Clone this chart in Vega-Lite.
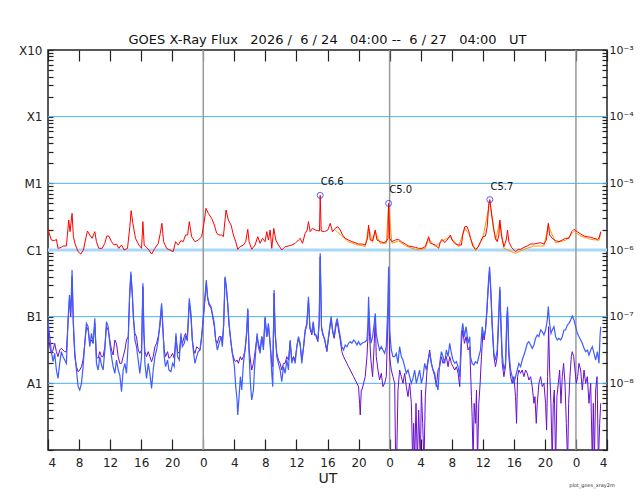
{
  "$schema": "https://vega.github.io/schema/vega-lite/v6.json",
  "description": "GOES X-ray flux, 3 days, long (1-8 A) and short (0.5-4 A) channels, log10 W/m2.",
  "autosize": "none",
  "width": 559,
  "height": 400,
  "padding": {"left": 48, "top": 50, "right": 33, "bottom": 50},
  "title": {
    "text": "GOES X-Ray Flux\u00a0\u00a0 2026 /\u00a0 6 / 24\u00a0\u00a0 04:00 --\u00a0 6 / 27\u00a0\u00a0 04:00\u00a0\u00a0 UT",
    "anchor": "middle",
    "baseline": "alphabetic",
    "offset": -13,
    "font": "DejaVu Sans",
    "fontSize": 13,
    "fontWeight": "normal",
    "color": "#111"
  },
  "datasets": {
    "c1": [{"v": -6}],
    "decades": [{"v": -4}, {"v": -5}, {"v": -7}, {"v": -8}],
    "days": [{"t": 20}, {"t": 44}, {"t": 68}],
    "flares": [
      {"t": 35.06, "v": -5.180, "label": "C6.6"},
      {"t": 43.87, "v": -5.301, "label": "C5.0"},
      {"t": 56.91, "v": -5.244, "label": "C5.7"}
    ],
    "tag": [{"t": 72, "v": -9, "label": "plot_goes_xray2m"}],
    "xl": [
      {"t":0,"v":-5.675},{"t":0.22,"v":-5.775},{"t":0.43,"v":-5.85},{"t":0.86,"v":-5.86},{"t":1.08,"v":-5.84},{"t":1.29,"v":-5.975},{"t":1.72,"v":-5.96},{"t":1.94,"v":-5.94},{"t":2.37,"v":-5.94},{"t":2.67,"v":-5.55},{"t":2.84,"v":-5.725},{"t":3.10,"v":-5.45},{"t":3.27,"v":-5.8},{"t":3.53,"v":-5.925},{"t":3.88,"v":-6.025},{"t":4.22,"v":-6.06},{"t":4.56,"v":-6.0},{"t":4.82,"v":-5.85},{"t":5.08,"v":-5.715},{"t":5.38,"v":-5.775},{"t":5.68,"v":-5.825},{"t":6.03,"v":-5.725},{"t":6.24,"v":-5.875},{"t":6.54,"v":-5.975},{"t":6.97,"v":-5.975},{"t":7.32,"v":-5.9},{"t":7.57,"v":-5.79},{"t":7.83,"v":-5.79},{"t":8.18,"v":-5.875},{"t":8.52,"v":-5.925},{"t":8.82,"v":-5.91},{"t":9.12,"v":-5.975},{"t":9.47,"v":-5.925},{"t":9.81,"v":-6.0},{"t":10.24,"v":-5.975},{"t":10.54,"v":-5.65},{"t":10.71,"v":-5.41},{"t":10.93,"v":-5.6},{"t":11.27,"v":-5.825},{"t":11.70,"v":-5.925},{"t":12.05,"v":-5.975},{"t":12.22,"v":-5.575},{"t":12.39,"v":-5.925},{"t":12.69,"v":-5.96},{"t":12.99,"v":-6.0},{"t":13.34,"v":-6.06},{"t":13.77,"v":-5.975},{"t":14.20,"v":-5.9},{"t":14.46,"v":-5.75},{"t":14.67,"v":-5.6},{"t":14.89,"v":-5.875},{"t":15.27,"v":-5.975},{"t":15.70,"v":-6.0},{"t":16.13,"v":-6.025},{"t":16.43,"v":-5.875},{"t":16.78,"v":-5.925},{"t":17.12,"v":-5.86},{"t":17.42,"v":-5.875},{"t":17.72,"v":-5.775},{"t":17.98,"v":-5.775},{"t":18.20,"v":-5.575},
      {"t":18.50,"v":-5.8},{"t":18.93,"v":-5.875},{"t":19.36,"v":-5.85},{"t":19.79,"v":-5.8},{"t":20.09,"v":-5.6},{"t":20.35,"v":-5.375},{"t":20.65,"v":-5.45},{"t":21.08,"v":-5.525},{"t":21.42,"v":-5.625},{"t":21.73,"v":-5.75},{"t":22.03,"v":-5.775},{"t":22.37,"v":-5.775},{"t":22.59,"v":-5.8},{"t":22.80,"v":-5.55},{"t":22.93,"v":-5.4},{"t":23.23,"v":-5.55},{"t":23.58,"v":-5.625},{"t":23.88,"v":-5.775},{"t":24.18,"v":-5.875},{"t":24.44,"v":-5.99},{"t":24.74,"v":-5.95},{"t":25.17,"v":-5.925},{"t":25.47,"v":-5.875},{"t":25.73,"v":-5.69},{"t":25.90,"v":-5.875},{"t":26.24,"v":-5.99},{"t":26.67,"v":-5.925},{"t":27.02,"v":-5.8},{"t":27.32,"v":-5.9},{"t":27.62,"v":-5.825},{"t":27.96,"v":-5.875},{"t":28.18,"v":-5.725},{"t":28.39,"v":-5.85},{"t":28.61,"v":-5.7},{"t":28.82,"v":-5.975},{"t":29.08,"v":-5.675},{"t":29.34,"v":-5.85},{"t":29.68,"v":-5.925},{"t":30.11,"v":-6.0},{"t":30.54,"v":-5.95},{"t":30.97,"v":-5.94},{"t":31.40,"v":-5.925},{"t":31.83,"v":-5.9},{"t":32.26,"v":-5.85},{"t":32.48,"v":-5.825},{"t":32.78,"v":-5.9},{"t":33.12,"v":-5.75},{"t":33.38,"v":-5.7},{"t":33.55,"v":-5.575},{"t":33.77,"v":-5.725},{"t":34.07,"v":-5.675},{"t":34.41,"v":-5.7},{"t":34.76,"v":-5.71},{"t":34.97,"v":-5.715},{"t":35.06,"v":-5.18},{"t":35.19,"v":-5.715},{"t":35.62,"v":-5.725},
      {"t":36.04,"v":-5.7},{"t":36.35,"v":-5.6},{"t":36.65,"v":-5.725},{"t":36.99,"v":-5.675},{"t":37.33,"v":-5.65},{"t":37.64,"v":-5.7},{"t":37.94,"v":-5.775},{"t":38.28,"v":-5.825},{"t":38.71,"v":-5.85},{"t":39.14,"v":-5.875},{"t":39.57,"v":-5.89},{"t":40.00,"v":-5.91},{"t":40.43,"v":-5.91},{"t":40.86,"v":-5.925},{"t":41.16,"v":-5.825},{"t":41.29,"v":-5.625},{"t":41.51,"v":-5.85},{"t":41.81,"v":-5.86},{"t":42.15,"v":-5.7},{"t":42.37,"v":-5.85},{"t":42.80,"v":-5.875},{"t":43.23,"v":-5.89},{"t":43.57,"v":-5.875},{"t":43.79,"v":-5.825},{"t":43.87,"v":-5.301},{"t":44.00,"v":-5.825},{"t":44.30,"v":-5.875},{"t":44.73,"v":-5.85},{"t":45.16,"v":-5.84},{"t":45.51,"v":-5.875},{"t":46.02,"v":-5.91},{"t":46.45,"v":-5.94},{"t":46.88,"v":-5.95},{"t":47.31,"v":-5.96},{"t":47.74,"v":-5.975},{"t":48.17,"v":-5.975},{"t":48.60,"v":-5.95},{"t":49.03,"v":-5.8},{"t":49.25,"v":-5.9},{"t":49.55,"v":-5.91},{"t":49.89,"v":-5.925},{"t":50.32,"v":-5.975},{"t":50.54,"v":-5.875},{"t":50.75,"v":-5.84},{"t":51.10,"v":-5.89},{"t":51.40,"v":-5.85},{"t":51.83,"v":-5.775},{"t":52.04,"v":-5.85},{"t":52.47,"v":-5.91},{"t":52.90,"v":-5.925},{"t":53.25,"v":-5.925},{"t":53.42,"v":-5.775},{"t":53.68,"v":-5.65},{"t":53.98,"v":-5.65},{"t":54.28,"v":-5.75},
      {"t":54.42,"v":-5.825},{"t":54.72,"v":-5.94},{"t":55.06,"v":-5.99},{"t":55.40,"v":-5.96},{"t":55.71,"v":-5.875},{"t":56.01,"v":-5.8},{"t":56.35,"v":-5.79},{"t":56.57,"v":-5.65},{"t":56.78,"v":-5.3},{"t":56.91,"v":-5.244},{"t":57.12,"v":-5.45},{"t":57.38,"v":-5.675},{"t":57.64,"v":-5.825},{"t":57.86,"v":-5.875},{"t":58.07,"v":-5.775},{"t":58.20,"v":-5.55},{"t":58.42,"v":-5.8},{"t":58.72,"v":-5.95},{"t":59.02,"v":-5.85},{"t":59.19,"v":-5.7},{"t":59.36,"v":-5.875},{"t":59.71,"v":-5.96},{"t":60.01,"v":-6.0},{"t":60.22,"v":-6.025},{"t":60.57,"v":-5.99},{"t":60.87,"v":-5.99},{"t":61.30,"v":-5.96},{"t":61.73,"v":-5.94},{"t":62.16,"v":-5.91},{"t":62.59,"v":-5.91},{"t":63.02,"v":-5.9},{"t":63.45,"v":-5.89},{"t":63.88,"v":-5.91},{"t":64.18,"v":-5.85},{"t":64.44,"v":-5.6},{"t":64.61,"v":-5.775},{"t":64.95,"v":-5.825},{"t":65.38,"v":-5.86},{"t":65.81,"v":-5.875},{"t":66.24,"v":-5.85},{"t":66.67,"v":-5.825},{"t":67.10,"v":-5.825},{"t":67.45,"v":-5.725},{"t":67.75,"v":-5.69},{"t":68.18,"v":-5.725},{"t":68.61,"v":-5.76},{"t":69.04,"v":-5.79},{"t":69.47,"v":-5.8},{"t":69.90,"v":-5.81},{"t":70.33,"v":-5.825},{"t":70.76,"v":-5.84},{"t":70.97,"v":-5.825},{"t":71.19,"v":-5.725}
    ],
    "xl2": [
      {"t":36.99,"v":-5.70},{"t":37.94,"v":-5.80},{"t":38.71,"v":-5.875},{"t":39.57,"v":-5.915},{"t":40.43,"v":-5.935},{"t":40.86,"v":-5.95},{"t":41.29,"v":-5.66},{"t":41.81,"v":-5.885},{"t":42.15,"v":-5.73},{"t":42.80,"v":-5.90},{"t":43.57,"v":-5.90},{"t":43.87,"v":-5.33},{"t":44.30,"v":-5.90},{"t":45.16,"v":-5.865},{"t":46.02,"v":-5.935},{"t":46.88,"v":-5.975},{"t":47.74,"v":-6.0},{"t":48.60,"v":-5.975},{"t":49.03,"v":-5.83},{"t":49.89,"v":-5.95},{"t":50.75,"v":-5.865},{"t":51.83,"v":-5.80},{"t":52.90,"v":-5.95},{"t":53.68,"v":-5.675},{"t":54.28,"v":-5.775},{"t":55.06,"v":-6.015},{"t":56.01,"v":-5.825},{"t":56.91,"v":-5.27},{"t":57.64,"v":-5.85},{"t":58.20,"v":-5.575},{"t":58.72,"v":-5.975},{"t":60.22,"v":-6.05},{"t":61.30,"v":-5.99},{"t":62.59,"v":-5.94},{"t":63.88,"v":-5.94},{"t":64.44,"v":-5.63},{"t":65.38,"v":-5.89},{"t":66.67,"v":-5.855},{"t":67.75,"v":-5.72},{"t":68.61,"v":-5.79},{"t":69.90,"v":-5.84},{"t":70.97,"v":-5.855},{"t":71.19,"v":-5.75}
    ],
    "xs": [
      {"t":0,"v":-7.05},{"t":0.22,"v":-7.3},{"t":0.43,"v":-7.525},{"t":0.65,"v":-7.675},{"t":0.86,"v":-7.55},{"t":1.08,"v":-7.8},{"t":1.29,"v":-7.925},{"t":1.51,"v":-7.7},{"t":1.72,"v":-7.525},{"t":1.94,"v":-7.6},{"t":2.15,"v":-7.65},{"t":2.37,"v":-7.7},{"t":2.58,"v":-7.05},{"t":2.76,"v":-6.675},{"t":2.93,"v":-6.95},{"t":3.10,"v":-6.3},{"t":3.27,"v":-7.1},{"t":3.45,"v":-7.525},{"t":3.66,"v":-7.8},{"t":3.88,"v":-8.05},{"t":4.09,"v":-8.1},{"t":4.31,"v":-8.0},{"t":4.52,"v":-7.75},{"t":4.74,"v":-7.4},{"t":4.95,"v":-7.1},{"t":5.17,"v":-7.15},{"t":5.38,"v":-7.45},{"t":5.60,"v":-7.25},{"t":5.81,"v":-7.4},{"t":6.03,"v":-7.025},{"t":6.24,"v":-7.7},{"t":6.46,"v":-7.8},{"t":6.67,"v":-7.6},{"t":6.89,"v":-7.725},{"t":7.10,"v":-7.8},{"t":7.32,"v":-7.5},{"t":7.53,"v":-7.075},{"t":7.75,"v":-7.15},{"t":7.96,"v":-7.4},{"t":8.18,"v":-7.6},{"t":8.39,"v":-7.75},{"t":8.61,"v":-7.85},{"t":8.82,"v":-7.65},{"t":9.04,"v":-7.8},{"t":9.25,"v":-7.875},{"t":9.47,"v":-8.125},{"t":9.68,"v":-7.8},{"t":9.90,"v":-7.7},{"t":10.11,"v":-7.85},{"t":10.33,"v":-7.4},{"t":10.50,"v":-6.7},{"t":10.67,"v":-6.325},{"t":10.84,"v":-6.6},{"t":11.01,"v":-7.0},{"t":11.19,"v":-7.35},{"t":11.40,"v":-7.45},{"t":11.62,"v":-7.65},{"t":11.83,"v":-7.85},{"t":12.05,"v":-7.6},{"t":12.22,"v":-6.5},{"t":12.35,"v":-7.2},{"t":12.48,"v":-7.7},{"t":12.69,"v":-7.925},{"t":12.91,"v":-7.7},{"t":13.12,"v":-7.85},{"t":13.34,"v":-8.075},{"t":13.55,"v":-7.8},{"t":13.77,"v":-7.6},{"t":13.98,"v":-7.5},{"t":14.20,"v":-7.35},{"t":14.41,"v":-7.1},{"t":14.63,"v":-6.8},{"t":14.80,"v":-7.15},{"t":14.97,"v":-7.6},{"t":15.14,"v":-7.75},{"t":15.40,"v":-7.65},{"t":15.57,"v":-7.8},{"t":15.83,"v":-7.825},{"t":16.05,"v":-7.7},{"t":16.26,"v":-7.75},{"t":16.48,"v":-7.25},{"t":16.69,"v":-7.6},{"t":16.91,"v":-7.65},{"t":17.12,"v":-7.25},{"t":17.30,"v":-7.45},{"t":17.55,"v":-7.4},{"t":17.72,"v":-7.3},{"t":17.94,"v":-7.35},{"t":18.20,"v":-6.725},
      {"t":18.41,"v":-6.95},{"t":18.59,"v":-7.35},{"t":18.76,"v":-7.55},{"t":18.93,"v":-7.7},{"t":19.15,"v":-7.6},{"t":19.36,"v":-7.525},{"t":19.58,"v":-7.5},{"t":19.79,"v":-7.3},{"t":20.01,"v":-7.0},{"t":20.22,"v":-6.7},{"t":20.39,"v":-6.45},{"t":20.56,"v":-6.7},{"t":20.74,"v":-6.8},{"t":21.00,"v":-6.85},{"t":21.17,"v":-6.95},{"t":21.42,"v":-7.1},{"t":21.60,"v":-7.35},{"t":21.81,"v":-7.5},{"t":22.03,"v":-7.4},{"t":22.29,"v":-7.3},{"t":22.46,"v":-7.45},{"t":22.63,"v":-7.1},{"t":22.80,"v":-6.4},{"t":22.97,"v":-6.55},{"t":23.15,"v":-6.8},{"t":23.32,"v":-7.1},{"t":23.58,"v":-7.4},{"t":23.75,"v":-7.55},{"t":24.01,"v":-7.75},{"t":24.18,"v":-8.05},{"t":24.35,"v":-8.25},{"t":24.44,"v":-8.475},{"t":24.61,"v":-8.2},{"t":24.78,"v":-7.9},{"t":24.95,"v":-8.1},{"t":25.17,"v":-7.7},{"t":25.38,"v":-7.5},{"t":25.60,"v":-7.2},{"t":25.73,"v":-6.875},{"t":25.90,"v":-7.55},{"t":26.07,"v":-8.0},{"t":26.24,"v":-8.25},{"t":26.46,"v":-8.1},{"t":26.59,"v":-7.8},{"t":26.76,"v":-7.5},{"t":26.93,"v":-7.25},{"t":27.10,"v":-7.45},{"t":27.32,"v":-7.55},{"t":27.53,"v":-7.3},{"t":27.75,"v":-7.5},{"t":27.96,"v":-7.0},{"t":28.18,"v":-7.3},{"t":28.39,"v":-7.1},{"t":28.61,"v":-7.4},{"t":28.82,"v":-7.85},{"t":28.95,"v":-8.05},{"t":29.12,"v":-6.6},{"t":29.25,"v":-7.2},{"t":29.47,"v":-7.6},{"t":29.68,"v":-7.7},{"t":29.90,"v":-7.8},{"t":30.11,"v":-7.975},{"t":30.33,"v":-7.75},{"t":30.54,"v":-7.85},{"t":30.76,"v":-7.65},{"t":30.97,"v":-7.8},{"t":31.19,"v":-7.35},{"t":31.40,"v":-7.7},{"t":31.62,"v":-7.6},{"t":31.83,"v":-7.7},{"t":32.05,"v":-7.45},{"t":32.26,"v":-7.3},{"t":32.48,"v":-7.4},{"t":32.69,"v":-7.7},{"t":32.91,"v":-7.45},{"t":33.12,"v":-7.2},{"t":33.34,"v":-7.1},{"t":33.55,"v":-6.7},{"t":33.73,"v":-7.15},{"t":33.98,"v":-7.25},{"t":34.16,"v":-7.075},{"t":34.33,"v":-7.25},{"t":34.54,"v":-7.275},{"t":34.76,"v":-7.35},{"t":34.93,"v":-7.05},{"t":35.06,"v":-6.05},{"t":35.23,"v":-7.15},{"t":35.40,"v":-7.25},{"t":35.62,"v":-7.35},
      {"t":35.92,"v":-7.5},{"t":36.13,"v":-7.3},{"t":36.35,"v":-7.1},{"t":36.47,"v":-7.0},{"t":36.65,"v":-7.2},{"t":36.86,"v":-7.3},{"t":37.08,"v":-7.1},{"t":37.25,"v":-7.025},{"t":37.42,"v":-7.15},{"t":37.64,"v":-7.3},{"t":37.85,"v":-7.45},{"t":38.07,"v":-7.5},{"t":38.28,"v":-7.425},{"t":38.50,"v":-7.45},{"t":38.71,"v":-7.4},{"t":38.93,"v":-7.375},{"t":39.14,"v":-7.4},{"t":39.36,"v":-7.35},{"t":39.57,"v":-7.375},{"t":39.79,"v":-7.425},{"t":40.00,"v":-7.375},{"t":40.22,"v":-7.425},{"t":40.43,"v":-7.4},{"t":40.86,"v":-7.375},{"t":41.08,"v":-7.35},{"t":41.21,"v":-7.1},{"t":41.29,"v":-6.7},{"t":41.42,"v":-7.1},{"t":41.59,"v":-7.4},{"t":41.81,"v":-7.3},{"t":42.02,"v":-7.1},{"t":42.15,"v":-6.95},{"t":42.28,"v":-7.25},{"t":42.50,"v":-7.4},{"t":42.71,"v":-7.5},{"t":42.93,"v":-7.45},{"t":43.14,"v":-7.5},{"t":43.36,"v":-7.55},{"t":43.57,"v":-7.45},{"t":43.79,"v":-6.8},{"t":43.87,"v":-6.25},{"t":44.00,"v":-7.2},{"t":44.22,"v":-7.5},{"t":44.43,"v":-7.6},{"t":44.65,"v":-7.6},{"t":44.86,"v":-7.55},{"t":45.08,"v":-7.7},{"t":45.29,"v":-7.45},{"t":45.51,"v":-7.6},{"t":45.72,"v":-7.65},{"t":45.94,"v":-7.75},{"t":46.15,"v":-7.85},{"t":46.37,"v":-7.8},{"t":46.58,"v":-7.9},{"t":46.80,"v":-8.0},{"t":47.01,"v":-7.925},{"t":47.23,"v":-7.8},{"t":47.44,"v":-8.0},{"t":47.66,"v":-7.9},{"t":47.87,"v":-7.8},{"t":48.09,"v":-8.0},{"t":48.30,"v":-7.9},{"t":48.52,"v":-7.7},{"t":48.73,"v":-7.8},{"t":48.95,"v":-7.65},{"t":49.16,"v":-7.55},{"t":49.38,"v":-7.7},{"t":49.59,"v":-7.8},{"t":49.81,"v":-7.85},{"t":50.02,"v":-8.0},{"t":50.24,"v":-8.1},{"t":50.45,"v":-7.7},{"t":50.67,"v":-7.525},{"t":50.88,"v":-7.6},{"t":51.10,"v":-7.7},{"t":51.31,"v":-7.5},{"t":51.53,"v":-7.6},{"t":51.74,"v":-7.4},{"t":51.96,"v":-7.55},{"t":52.17,"v":-7.65},{"t":52.39,"v":-7.7},{"t":52.60,"v":-7.675},{"t":52.82,"v":-7.75},{"t":53.03,"v":-7.9},{"t":53.25,"v":-7.25},{"t":53.42,"v":-7.1},{"t":53.64,"v":-7.3},{"t":53.85,"v":-7.15},{"t":54.11,"v":-7.4},{"t":54.32,"v":-7.3},
      {"t":54.42,"v":-7.6},{"t":54.63,"v":-7.7},{"t":54.85,"v":-7.725},{"t":55.06,"v":-7.675},{"t":55.28,"v":-7.7},{"t":55.49,"v":-7.6},{"t":55.71,"v":-7.5},{"t":55.92,"v":-7.15},{"t":56.14,"v":-7.3},{"t":56.35,"v":-7.2},{"t":56.52,"v":-6.9},{"t":56.69,"v":-6.55},{"t":56.87,"v":-6.25},{"t":57.04,"v":-6.6},{"t":57.21,"v":-7.1},{"t":57.43,"v":-7.55},{"t":57.64,"v":-7.65},{"t":57.86,"v":-7.5},{"t":58.07,"v":-6.9},{"t":58.20,"v":-6.55},{"t":58.33,"v":-7.05},{"t":58.50,"v":-7.55},{"t":58.72,"v":-7.8},{"t":58.93,"v":-7.7},{"t":59.10,"v":-7.0},{"t":59.19,"v":-6.85},{"t":59.36,"v":-7.5},{"t":59.58,"v":-7.8},{"t":59.79,"v":-7.9},{"t":60.01,"v":-8.0},{"t":60.22,"v":-7.9},{"t":60.44,"v":-7.8},{"t":60.65,"v":-7.7},{"t":60.87,"v":-7.75},{"t":61.08,"v":-7.65},{"t":61.30,"v":-7.575},{"t":61.51,"v":-7.5},{"t":61.73,"v":-7.4},{"t":61.94,"v":-7.375},{"t":62.16,"v":-7.425},{"t":62.37,"v":-7.475},{"t":62.59,"v":-7.425},{"t":62.80,"v":-7.325},{"t":63.02,"v":-7.275},{"t":63.23,"v":-7.3},{"t":63.45,"v":-7.2},{"t":63.66,"v":-7.225},{"t":63.88,"v":-7.275},{"t":64.09,"v":-7.2},{"t":64.31,"v":-7.05},{"t":64.44,"v":-6.85},{"t":64.61,"v":-7.1},{"t":64.78,"v":-7.25},{"t":64.95,"v":-7.2},{"t":65.17,"v":-7.15},{"t":65.38,"v":-7.3},{"t":65.60,"v":-7.35},{"t":65.81,"v":-7.325},{"t":66.03,"v":-7.35},{"t":66.24,"v":-7.3},{"t":66.46,"v":-7.2},{"t":66.67,"v":-7.2},{"t":66.89,"v":-7.125},{"t":67.10,"v":-7.1},{"t":67.32,"v":-7.05},{"t":67.53,"v":-6.99},{"t":67.75,"v":-7.05},{"t":67.96,"v":-7.15},{"t":68.18,"v":-7.25},{"t":68.39,"v":-7.3},{"t":68.61,"v":-7.35},{"t":68.82,"v":-7.4},{"t":69.04,"v":-7.475},{"t":69.25,"v":-7.525},{"t":69.47,"v":-7.5},{"t":69.68,"v":-7.575},{"t":69.90,"v":-7.5},{"t":70.11,"v":-7.45},{"t":70.33,"v":-7.55},{"t":70.54,"v":-7.65},{"t":70.76,"v":-7.525},{"t":70.97,"v":-7.7},{"t":71.10,"v":-7.3},{"t":71.19,"v":-7.15}
    ],
    "xs2": [
      {"t":0,"v":-7.2},{"t":0.22,"v":-7.45},{"t":0.43,"v":-7.55},{"t":0.65,"v":-7.5},{"t":0.86,"v":-7.4},{"t":1.08,"v":-7.525},{"t":1.29,"v":-7.6},{"t":1.51,"v":-7.5},{"t":1.72,"v":-7.475},{"t":1.94,"v":-7.5},{"t":2.15,"v":-7.525},{"t":2.37,"v":-7.525},{"t":2.58,"v":-7.1},{"t":2.76,"v":-6.75},{"t":2.93,"v":-7.0},{"t":3.10,"v":-6.4},{"t":3.27,"v":-7.15},{"t":3.45,"v":-7.6},{"t":3.66,"v":-7.75},{"t":3.88,"v":-7.825},{"t":4.09,"v":-7.8},{"t":4.31,"v":-7.75},{"t":4.52,"v":-7.65},{"t":4.74,"v":-7.4},{"t":4.95,"v":-7.15},{"t":5.17,"v":-7.2},{"t":5.38,"v":-7.4},{"t":5.60,"v":-7.35},{"t":5.81,"v":-7.4},{"t":6.03,"v":-7.1},{"t":6.24,"v":-7.6},{"t":6.46,"v":-7.625},{"t":6.67,"v":-7.525},{"t":6.89,"v":-7.6},{"t":7.10,"v":-7.6},{"t":7.32,"v":-7.45},{"t":7.53,"v":-7.15},{"t":7.75,"v":-7.2},{"t":7.96,"v":-7.35},{"t":8.18,"v":-7.5},{"t":8.39,"v":-7.575},{"t":8.61,"v":-7.35},{"t":8.82,"v":-7.4},{"t":9.04,"v":-7.6},{"t":9.25,"v":-7.7},{"t":9.47,"v":-7.7},{"t":9.68,"v":-7.6},{"t":9.90,"v":-7.5},{"t":10.11,"v":-7.35},{"t":10.33,"v":-7.3},{"t":10.50,"v":-6.75},{"t":10.67,"v":-6.375},{"t":10.84,"v":-6.65},{"t":11.01,"v":-7.05},{"t":11.19,"v":-7.25},{"t":11.40,"v":-7.3},{"t":11.62,"v":-7.5},{"t":11.83,"v":-7.55},{"t":12.05,"v":-7.5},{"t":12.22,"v":-6.55},{"t":12.35,"v":-7.25},{"t":12.48,"v":-7.525},{"t":12.69,"v":-7.6},{"t":12.91,"v":-7.525},{"t":13.12,"v":-7.6},{"t":13.34,"v":-7.675},{"t":13.55,"v":-7.6},{"t":13.77,"v":-7.45},{"t":13.98,"v":-7.4},{"t":14.20,"v":-7.3},{"t":14.41,"v":-7.15},{"t":14.63,"v":-6.85},{"t":14.80,"v":-7.2},{"t":14.97,"v":-7.5},{"t":15.14,"v":-7.6},{"t":15.40,"v":-7.525},{"t":15.57,"v":-7.625},{"t":15.83,"v":-7.6},{"t":16.05,"v":-7.55},{"t":16.26,"v":-7.625},{"t":16.48,"v":-7.3},{"t":16.69,"v":-7.525},{"t":16.91,"v":-7.55},{"t":17.12,"v":-7.3},{"t":17.30,"v":-7.4},{"t":17.55,"v":-7.3},{"t":17.72,"v":-7.25},{"t":17.94,"v":-7.35},{"t":18.20,"v":-6.8},
      {"t":18.41,"v":-7.0},{"t":18.59,"v":-7.35},{"t":18.76,"v":-7.5},{"t":18.93,"v":-7.55},{"t":19.15,"v":-7.45},{"t":19.36,"v":-7.475},{"t":19.58,"v":-7.5},{"t":19.79,"v":-7.3},{"t":20.01,"v":-7.025},{"t":20.22,"v":-6.725},{"t":20.39,"v":-6.5},{"t":20.56,"v":-6.725},{"t":20.74,"v":-6.825},{"t":21.00,"v":-6.875},{"t":21.17,"v":-6.975},{"t":21.42,"v":-7.15},{"t":21.60,"v":-7.35},{"t":21.81,"v":-7.4},{"t":22.03,"v":-7.3},{"t":22.29,"v":-7.3},{"t":22.46,"v":-7.375},{"t":22.63,"v":-7.125},{"t":22.80,"v":-6.425},{"t":22.97,"v":-6.575},{"t":23.15,"v":-6.825},{"t":23.32,"v":-7.125},{"t":23.58,"v":-7.4},{"t":23.75,"v":-7.55},{"t":24.01,"v":-7.65},{"t":24.18,"v":-7.675},{"t":24.35,"v":-7.65},{"t":24.52,"v":-7.7},{"t":24.78,"v":-7.6},{"t":24.95,"v":-7.65},{"t":25.17,"v":-7.6},{"t":25.38,"v":-7.5},{"t":25.60,"v":-7.25},{"t":25.73,"v":-6.9},{"t":25.90,"v":-7.5},{"t":26.07,"v":-7.65},{"t":26.24,"v":-7.8},{"t":26.46,"v":-7.7},{"t":26.59,"v":-7.6},{"t":26.76,"v":-7.45},{"t":26.93,"v":-7.3},{"t":27.10,"v":-7.4},{"t":27.32,"v":-7.5},{"t":27.53,"v":-7.3},{"t":27.75,"v":-7.45},{"t":27.96,"v":-7.025},{"t":28.18,"v":-7.3},{"t":28.39,"v":-7.15},{"t":28.61,"v":-7.4},{"t":28.82,"v":-7.7},{"t":28.95,"v":-7.75},{"t":29.12,"v":-6.65},{"t":29.25,"v":-7.25},{"t":29.47,"v":-7.55},{"t":29.68,"v":-7.65},{"t":29.90,"v":-7.7},{"t":30.11,"v":-7.8},{"t":30.33,"v":-7.7},{"t":30.54,"v":-7.7},{"t":30.76,"v":-7.6},{"t":30.97,"v":-7.65},{"t":31.19,"v":-7.375},{"t":31.40,"v":-7.65},{"t":31.62,"v":-7.6},{"t":31.83,"v":-7.65},{"t":32.05,"v":-7.45},{"t":32.26,"v":-7.325},{"t":32.48,"v":-7.425},{"t":32.69,"v":-7.65},{"t":32.91,"v":-7.475},{"t":33.12,"v":-7.225},{"t":33.34,"v":-7.125},{"t":33.55,"v":-6.75},{"t":33.73,"v":-7.175},{"t":33.98,"v":-7.275},{"t":34.16,"v":-7.1},{"t":34.33,"v":-7.275},{"t":34.54,"v":-7.3},{"t":34.76,"v":-7.375},{"t":34.93,"v":-7.1},{"t":35.06,"v":-6.1},{"t":35.23,"v":-7.175},{"t":35.40,"v":-7.275},{"t":35.62,"v":-7.325},
      {"t":35.92,"v":-7.525},{"t":36.13,"v":-7.325},{"t":36.35,"v":-7.125},{"t":36.47,"v":-7.025},{"t":36.65,"v":-7.225},{"t":36.86,"v":-7.325},{"t":37.08,"v":-7.15},{"t":37.25,"v":-7.075},{"t":37.42,"v":-7.2},{"t":37.64,"v":-7.35},{"t":37.85,"v":-7.525},{"t":38.07,"v":-7.6},{"t":38.28,"v":-7.65},{"t":38.50,"v":-7.7},{"t":38.71,"v":-7.75},{"t":38.93,"v":-7.8},{"t":39.14,"v":-7.85},{"t":39.36,"v":-7.9},{"t":39.57,"v":-7.95},{"t":39.79,"v":-8.0},{"t":40.00,"v":-8.05},{"t":40.13,"v":-8.3},{"t":40.22,"v":-8.475},{"t":40.35,"v":-8.1},{"t":40.43,"v":-8.1},{"t":40.65,"v":-8.0},{"t":40.86,"v":-7.9},{"t":41.08,"v":-7.6},{"t":41.21,"v":-7.3},{"t":41.29,"v":-6.9},{"t":41.42,"v":-7.3},{"t":41.59,"v":-7.65},{"t":41.81,"v":-7.9},{"t":42.02,"v":-7.4},{"t":42.15,"v":-7.0},{"t":42.28,"v":-7.6},{"t":42.50,"v":-7.8},{"t":42.71,"v":-7.95},{"t":42.93,"v":-7.85},{"t":43.14,"v":-8.05},{"t":43.36,"v":-8.0},{"t":43.57,"v":-7.9},{"t":43.79,"v":-7.0},{"t":43.87,"v":-6.35},{"t":44.00,"v":-7.6},{"t":44.22,"v":-7.8},{"t":44.43,"v":-7.9},{"t":44.65,"v":-8.0},{"t":44.78,"v":-9.2},{"t":44.90,"v":-9.2},{"t":45.08,"v":-8.1},{"t":45.29,"v":-7.8},{"t":45.51,"v":-7.9},{"t":45.72,"v":-8.0},{"t":45.94,"v":-7.85},{"t":46.15,"v":-8.05},{"t":46.37,"v":-8.2},{"t":46.58,"v":-8.0},{"t":46.80,"v":-8.3},{"t":46.97,"v":-9.2},{"t":47.10,"v":-8.6},{"t":47.23,"v":-9.2},{"t":47.40,"v":-8.3},{"t":47.57,"v":-9.2},{"t":47.74,"v":-8.4},{"t":47.96,"v":-9.2},{"t":48.09,"v":-8.1},{"t":48.26,"v":-8.6},{"t":48.43,"v":-9.2},{"t":48.60,"v":-8.2},{"t":48.82,"v":-7.8},{"t":49.03,"v":-7.6},{"t":49.16,"v":-7.5},{"t":49.38,"v":-7.7},{"t":49.59,"v":-7.8},{"t":49.81,"v":-7.9},{"t":50.02,"v":-8.05},{"t":50.24,"v":-7.8},{"t":50.45,"v":-7.75},{"t":50.67,"v":-7.6},{"t":50.88,"v":-7.7},{"t":51.10,"v":-7.65},{"t":51.31,"v":-7.6},{"t":51.53,"v":-7.75},{"t":51.74,"v":-7.6},{"t":51.96,"v":-7.7},{"t":52.17,"v":-7.75},{"t":52.39,"v":-7.8},{"t":52.60,"v":-7.75},{"t":52.82,"v":-7.85},{"t":53.03,"v":-8.05},{"t":53.25,"v":-7.4},{"t":53.42,"v":-7.2},{"t":53.64,"v":-7.4},{"t":53.85,"v":-7.3},{"t":54.11,"v":-7.5},{"t":54.32,"v":-7.45},
      {"t":54.42,"v":-7.8},{"t":54.54,"v":-8.2},{"t":54.63,"v":-8.5},{"t":54.76,"v":-9.2},{"t":54.89,"v":-8.3},{"t":55.06,"v":-8.6},{"t":55.19,"v":-8.1},{"t":55.32,"v":-9.2},{"t":55.49,"v":-8.3},{"t":55.66,"v":-8.0},{"t":55.83,"v":-7.6},{"t":56.01,"v":-7.25},{"t":56.18,"v":-7.35},{"t":56.35,"v":-7.2},{"t":56.52,"v":-6.95},{"t":56.69,"v":-6.6},{"t":56.87,"v":-6.3},{"t":57.04,"v":-6.65},{"t":57.21,"v":-7.15},{"t":57.43,"v":-7.6},{"t":57.64,"v":-7.75},{"t":57.86,"v":-7.6},{"t":58.07,"v":-7.0},{"t":58.20,"v":-6.6},{"t":58.33,"v":-7.1},{"t":58.50,"v":-7.7},{"t":58.72,"v":-7.9},{"t":58.93,"v":-7.75},{"t":59.10,"v":-7.05},{"t":59.19,"v":-6.9},{"t":59.36,"v":-7.6},{"t":59.58,"v":-7.9},{"t":59.79,"v":-8.0},{"t":60.01,"v":-7.9},{"t":60.22,"v":-8.2},{"t":60.35,"v":-8.6},{"t":60.48,"v":-7.9},{"t":60.65,"v":-7.8},{"t":60.87,"v":-7.85},{"t":61.08,"v":-7.8},{"t":61.30,"v":-7.9},{"t":61.51,"v":-7.8},{"t":61.73,"v":-7.85},{"t":61.94,"v":-7.95},{"t":62.16,"v":-7.9},{"t":62.37,"v":-8.05},{"t":62.59,"v":-8.3},{"t":62.72,"v":-8.2},{"t":62.89,"v":-8.6},{"t":63.02,"v":-8.3},{"t":63.23,"v":-8.0},{"t":63.45,"v":-7.9},{"t":63.66,"v":-8.05},{"t":63.88,"v":-8.0},{"t":64.09,"v":-8.3},{"t":64.22,"v":-8.7},{"t":64.35,"v":-7.9},{"t":64.48,"v":-7.15},{"t":64.61,"v":-7.8},{"t":64.78,"v":-8.3},{"t":64.95,"v":-9.2},{"t":65.08,"v":-8.3},{"t":65.21,"v":-8.1},{"t":65.38,"v":-9.2},{"t":65.55,"v":-8.2},{"t":65.73,"v":-8.0},{"t":65.90,"v":-7.8},{"t":66.07,"v":-8.3},{"t":66.24,"v":-7.9},{"t":66.41,"v":-7.7},{"t":66.59,"v":-8.0},{"t":66.76,"v":-8.6},{"t":66.93,"v":-9.2},{"t":67.06,"v":-8.3},{"t":67.23,"v":-7.9},{"t":67.40,"v":-7.6},{"t":67.53,"v":-7.525},{"t":67.71,"v":-7.6},{"t":67.88,"v":-7.8},{"t":68.05,"v":-8.0},{"t":68.22,"v":-7.9},{"t":68.39,"v":-7.7},{"t":68.61,"v":-7.8},{"t":68.82,"v":-8.1},{"t":69.04,"v":-7.8},{"t":69.25,"v":-8.0},{"t":69.47,"v":-7.9},{"t":69.68,"v":-8.3},{"t":69.90,"v":-8.0},{"t":70.11,"v":-9.2},{"t":70.24,"v":-8.3},{"t":70.37,"v":-9.2},{"t":70.54,"v":-8.1},{"t":70.72,"v":-7.9},{"t":70.89,"v":-9.2},{"t":71.06,"v":-8.6},{"t":71.19,"v":-8.3}
    ]
  },
  "resolve": {"axis": {"x": "independent", "y": "independent"}},
  "layer": [
    {
      "data": {"name": "c1"},
      "mark": {"type": "rule", "color": "#a8d8f8", "strokeWidth": 3},
      "encoding": {"y": {"field": "v", "type": "quantitative", "scale": {"domain": [-9, -3], "nice": false, "zero": false}, "axis": null}}
    },
    {
      "data": {"name": "decades"},
      "mark": {"type": "rule", "color": "#4fb0f0", "strokeWidth": 1},
      "encoding": {"y": {"field": "v", "type": "quantitative", "scale": {"domain": [-9, -3], "nice": false, "zero": false}, "axis": null}}
    },
    {
      "data": {"name": "days"},
      "mark": {"type": "rule", "color": "#9a9a9a", "strokeWidth": 1.5},
      "encoding": {"x": {"field": "t", "type": "quantitative", "scale": {"domain": [0, 72], "nice": false, "zero": false}, "axis": null}}
    },
    {
      "data": {"name": "xl2"},
      "mark": {"type": "line", "color": "#ff9a00", "strokeWidth": 1, "clip": true},
      "encoding": {
        "x": {"field": "t", "type": "quantitative", "scale": {"domain": [0, 72], "nice": false, "zero": false}, "axis": null},
        "y": {"field": "v", "type": "quantitative", "scale": {"domain": [-9, -3], "nice": false, "zero": false}, "axis": null}
      }
    },
    {
      "data": {"name": "xl"},
      "mark": {"type": "line", "color": "#ff0000", "strokeWidth": 1, "clip": true},
      "encoding": {
        "x": {
          "field": "t", "type": "quantitative",
          "scale": {"domain": [0, 72], "nice": false, "zero": false},
          "axis": {
            "orient": "bottom", "title": "UT",
            "values": [0, 4, 8, 12, 16, 20, 24, 28, 32, 36, 40, 44, 48, 52, 56, 60, 64, 68, 72],
            "labelExpr": "'' + ((datum.value + 4) % 24)",
            "tickSize": -11, "labelPadding": 18, "titleFontSize": 14, "titlePadding": 3
          }
        },
        "y": {
          "field": "v", "type": "quantitative",
          "scale": {"domain": [-9, -3], "nice": false, "zero": false},
          "axis": {
            "orient": "left", "title": null,
            "values": [-9, -8.69897, -8.52288, -8.39794, -8.30103, -8.22185, -8.1549, -8.09691, -8.04576, -8, -7.69897, -7.52288, -7.39794, -7.30103, -7.22185, -7.1549, -7.09691, -7.04576, -7, -6.69897, -6.52288, -6.39794, -6.30103, -6.22185, -6.1549, -6.09691, -6.04576, -6, -5.69897, -5.52288, -5.39794, -5.30103, -5.22185, -5.1549, -5.09691, -5.04576, -5, -4.69897, -4.52288, -4.39794, -4.30103, -4.22185, -4.1549, -4.09691, -4.04576, -4, -3.69897, -3.52288, -3.39794, -3.30103, -3.22185, -3.1549, -3.09691, -3.04576, -3],
            "labelExpr": "datum.value == -3 ? 'X10' : datum.value == -4 ? 'X1' : datum.value == -5 ? 'M1' : datum.value == -6 ? 'C1' : datum.value == -7 ? 'B1' : datum.value == -8 ? 'A1' : ''",
            "tickSize": -5, "labelPadding": 11
          }
        }
      }
    },
    {
      "data": {"name": "xs2"},
      "mark": {"type": "line", "color": "#6a0fd0", "strokeWidth": 1, "clip": true},
      "encoding": {
        "x": {"field": "t", "type": "quantitative", "scale": {"domain": [0, 72], "nice": false, "zero": false}, "axis": null},
        "y": {"field": "v", "type": "quantitative", "scale": {"domain": [-9, -3], "nice": false, "zero": false}, "axis": null}
      }
    },
    {
      "data": {"name": "xs"},
      "mark": {"type": "line", "color": "#3f5dff", "strokeWidth": 1.2, "clip": true},
      "encoding": {
        "x": {
          "field": "t", "type": "quantitative",
          "scale": {"domain": [0, 72], "nice": false, "zero": false},
          "axis": {
            "orient": "top", "title": null, "labels": false,
            "values": [0, 4, 8, 12, 16, 20, 24, 28, 32, 36, 40, 44, 48, 52, 56, 60, 64, 68, 72],
            "tickSize": -11
          }
        },
        "y": {
          "field": "v", "type": "quantitative",
          "scale": {"domain": [-9, -3], "nice": false, "zero": false},
          "axis": {
            "orient": "right", "title": null,
            "values": [-9, -8.69897, -8.52288, -8.39794, -8.30103, -8.22185, -8.1549, -8.09691, -8.04576, -8, -7.69897, -7.52288, -7.39794, -7.30103, -7.22185, -7.1549, -7.09691, -7.04576, -7, -6.69897, -6.52288, -6.39794, -6.30103, -6.22185, -6.1549, -6.09691, -6.04576, -6, -5.69897, -5.52288, -5.39794, -5.30103, -5.22185, -5.1549, -5.09691, -5.04576, -5, -4.69897, -4.52288, -4.39794, -4.30103, -4.22185, -4.1549, -4.09691, -4.04576, -4, -3.69897, -3.52288, -3.39794, -3.30103, -3.22185, -3.1549, -3.09691, -3.04576, -3],
            "labelExpr": "datum.value == -3 ? '10⁻³' : datum.value == -4 ? '10⁻⁴' : datum.value == -5 ? '10⁻⁵' : datum.value == -6 ? '10⁻⁶' : datum.value == -7 ? '10⁻⁷' : datum.value == -8 ? '10⁻⁸' : ''",
            "tickSize": -5, "labelPadding": 7, "labelFontSize": 11
          }
        }
      }
    },
    {
      "data": {"name": "flares"},
      "mark": {"type": "point", "shape": "circle", "filled": false, "color": "#1a1aff", "size": 36, "strokeWidth": 1},
      "encoding": {
        "x": {"field": "t", "type": "quantitative", "scale": {"domain": [0, 72], "nice": false, "zero": false}, "axis": null},
        "y": {"field": "v", "type": "quantitative", "scale": {"domain": [-9, -3], "nice": false, "zero": false}, "axis": null}
      }
    },
    {
      "data": {"name": "flares"},
      "mark": {"type": "text", "dx": 12, "dy": -13, "font": "DejaVu Sans", "fontSize": 10, "color": "#111"},
      "encoding": {
        "x": {"field": "t", "type": "quantitative", "scale": {"domain": [0, 72], "nice": false, "zero": false}, "axis": null},
        "y": {"field": "v", "type": "quantitative", "scale": {"domain": [-9, -3], "nice": false, "zero": false}, "axis": null},
        "text": {"field": "label"}
      }
    },
    {
      "data": {"name": "tag"},
      "mark": {"type": "text", "dx": -15, "dy": 35, "font": "DejaVu Sans", "fontSize": 5, "color": "#333"},
      "encoding": {
        "x": {"field": "t", "type": "quantitative", "scale": {"domain": [0, 72], "nice": false, "zero": false}, "axis": null},
        "y": {"field": "v", "type": "quantitative", "scale": {"domain": [-9, -3], "nice": false, "zero": false}, "axis": null},
        "text": {"field": "label"}
      }
    }
  ],
  "config": {
    "view": {"stroke": "#222", "strokeWidth": 1.5},
    "axis": {
      "domain": false, "grid": false,
      "tickColor": "#222", "tickWidth": 1.2,
      "labelFont": "DejaVu Sans", "labelFontSize": 12, "labelColor": "#222", "labelOverlap": false,
      "titleFont": "DejaVu Sans", "titleFontWeight": "normal", "titleColor": "#222"
    }
  }
}
